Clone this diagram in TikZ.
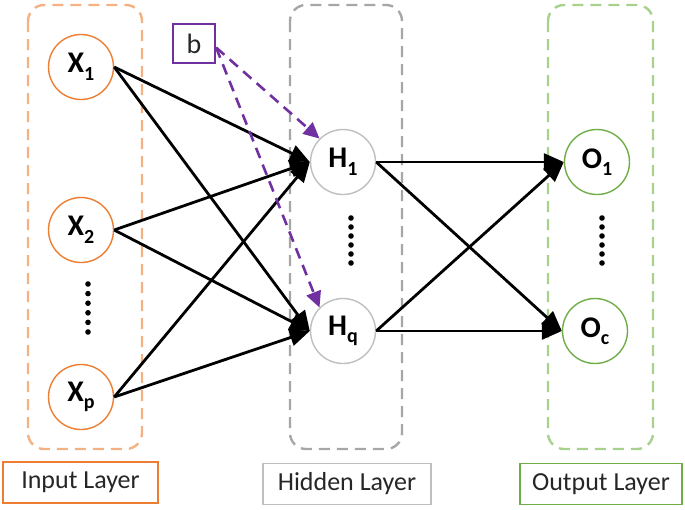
\documentclass[tikz,border=0pt]{standalone}
\usepackage{fontspec}
\setmainfont{Carlito}
\usetikzlibrary{arrows.meta}
\definecolor{inorange}{RGB}{237,125,49}
\definecolor{inlight}{RGB}{244,177,131}
\definecolor{hidgray}{RGB}{191,191,191}
\definecolor{hiddash}{RGB}{166,166,166}
\definecolor{outgreen}{RGB}{112,173,71}
\definecolor{outlight}{RGB}{169,209,142}
\definecolor{bpurple}{RGB}{112,48,160}
\newcommand{\nlab}[2]{\textbf{#1\raisebox{-0.25em}{\fontsize{20}{20}\selectfont #2}}}
\tikzset{
  neuron/.style={circle, draw, line width=1.4pt, minimum size=65pt, inner sep=0pt, fill=white,
    font=\fontsize{30}{32}\selectfont},
  layerbox/.style={draw, dashed, line width=2.4pt, dash pattern=on 11pt off 7pt, rounded corners=16pt},
  labbox/.style={draw, line width=1.4pt, minimum height=41pt, inner sep=0pt,
    font=\fontsize{26}{30}\selectfont, text=black!85},
  conn/.style={line width=2.8pt, -{Triangle[length=20pt,width=17pt]}},
  bconn/.style={bpurple, line width=2.6pt, dash pattern=on 11pt off 7pt, -{Triangle[length=16pt,width=15pt]}},
  dotstyle/.style={fill=black}
}
\begin{document}
\begin{tikzpicture}[x=1pt,y=-1pt]
\useasboundingbox (0,0) rectangle (685,509);
% layer boxes
\draw[layerbox, inlight] (28,5) rectangle (142,449);
\draw[layerbox, hiddash] (290,5) rectangle (402,449);
\draw[layerbox, outlight] (548,5) rectangle (653,449);
% neurons
\node[neuron, draw=inorange] (x1) at (81,67) {\nlab{X}{1}};
\node[neuron, draw=inorange] (x2) at (81,230) {\nlab{X}{2}};
\node[neuron, draw=inorange] (xp) at (81,397) {\nlab{X}{p}};
\node[neuron, draw=hidgray] (h1) at (343,162) {\nlab{H}{1}};
\node[neuron, draw=hidgray] (hq) at (343,331) {\nlab{H}{q}};
\node[neuron, draw=outgreen] (o1) at (597,162) {\nlab{O}{1}};
\node[neuron, draw=outgreen] (oc) at (595,331) {\nlab{O}{c}};
% dots
\foreach \i in {0,...,5} {
  \fill[dotstyle] (88,{284+\i*9.6}) circle (2.8pt);
  \fill[dotstyle] (351,{218+\i*9}) circle (2.8pt);
  \fill[dotstyle] (602,{218+\i*9}) circle (2.8pt);
}
% bias
\node[draw=bpurple, line width=2.2pt, minimum width=42pt, minimum height=39pt, inner sep=0pt,
  font=\fontsize{28}{30}\selectfont, text=black!85] (b) at (194,43.5) {b};
% labels
\node[labbox, draw=inorange, minimum width=155pt] (lin) at (80.5,482.5) {Input Layer};
\node[labbox, draw=hidgray, minimum width=168pt] (lhid) at (347,484) {Hidden Layer};
\node[labbox, draw=outgreen, minimum width=162pt] (lout) at (601,484) {Output Layer};
% connections
\foreach \s in {x1,x2,xp} {
  \draw[conn] (\s.east) -- (h1.west);
  \draw[conn] (\s.east) -- (hq.west);
}
\foreach \s in {h1,hq} {
  \draw[conn] (\s.east) -- (o1.west);
  \draw[conn] (\s.east) -- (oc.west);
}
\draw[bconn] ([yshift=-4pt]b.east) -- (h1.north west);
\draw[bconn] ([yshift=-4pt]b.east) -- (hq.north west);
\end{tikzpicture}
\end{document}
